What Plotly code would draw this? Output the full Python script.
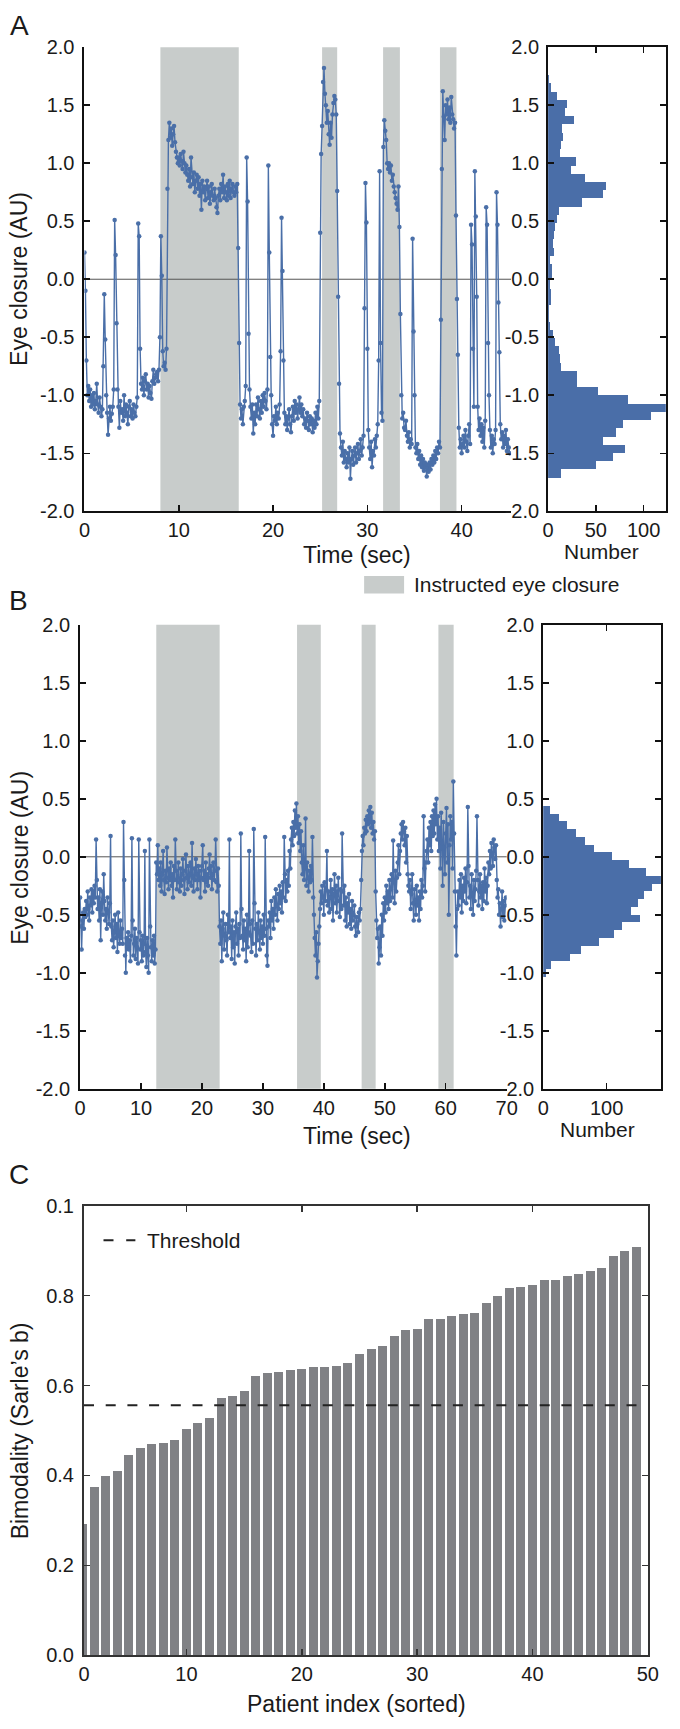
import plotly.graph_objects as go

# ---------------- data ----------------
FS_A = 10   # samples per second of the transcribed trace A
FS_B = 8    # samples per second of the transcribed trace B

eyeA = [
    0.23, -0.10, -0.70, -1.00, -0.92, -1.05, -0.95, -1.10, -1.00, -1.08,
    -0.98, -1.12, -1.05, -0.90, -1.08, -1.15, -1.02, -1.10, -1.18, -1.12,
    -0.75, -0.13, -0.52, -1.00, -1.15, -1.34, -1.20, -1.10, -1.22, -1.16,
    -1.10, -0.95, 0.51, 0.21, -0.38, -0.95, -1.10, -1.28, -1.05, -1.15,
    -1.12, -1.22, -1.00, -1.18, -1.08, -1.15, -1.25, -1.10, -1.05, -1.18,
    -1.12, -1.20, -1.08, -1.15, -1.18, -1.10, -1.02, 0.48, 0.37, -0.60,
    -0.90, -0.95, -0.85, -1.00, -0.88, -0.82, -0.95, -0.90, -1.02, -0.92,
    -0.98, -1.03, -0.88, -0.78, -0.90, -0.85, -0.82, -0.80, -0.88, -0.78,
    -0.50, 0.37, 0.03, -0.62, -0.75, -0.72, -0.78, -0.60, 0.78, 1.20,
    1.35, 1.22, 1.30, 1.15, 1.25, 1.32, 1.18, 1.10, 1.05, 1.00,
    1.05, 0.98, 1.08, 1.02, 0.95, 1.10, 1.00, 0.92, 0.98, 0.90,
    0.85, 0.95, 0.80, 1.05, 0.88, 0.82, 0.92, 0.75, 0.85, 0.90,
    0.78, 0.88, 0.72, 0.82, 0.60, 0.85, 0.75, 0.80, 0.68, 0.78,
    0.85, 0.70, 0.80, 0.65, 0.75, 0.82, 0.72, 0.68, 0.78, 0.70,
    0.62, 0.57, 0.72, 0.78, 0.68, 0.82, 0.75, 0.90, 0.70, 0.80,
    0.75, 0.68, 0.82, 0.72, 0.85, 0.70, 0.78, 0.82, 0.75, 0.72,
    0.80, 0.75, 0.82, 0.27, -0.55, -1.08, -1.20, -1.12, -1.25, -1.10,
    -1.05, -0.92, 1.05, 0.67, -0.47, -0.95, -1.10, -1.20, -1.08, -1.33,
    -1.15, -1.25, -1.08, -1.18, -1.02, -1.12, -1.20, -1.05, -1.15, -1.00,
    -1.10, -0.98, -1.05, -1.12, -0.95, 0.98, 0.23, -0.67, -1.00, -1.25,
    -1.35, -1.18, -1.22, -1.10, -1.25, -1.15, -1.20, -1.08, -0.62, 0.53,
    0.07, -0.70, -1.15, -1.25, -1.18, -1.30, -1.20, -1.12, -1.25, -1.32,
    -1.18, -1.10, -1.22, -1.05, -1.15, -1.08, -1.20, -1.12, -1.02, -1.15,
    -1.08, -1.18, -1.12, -1.25, -1.20, -1.28, -1.15, -1.22, -1.30, -1.18,
    -1.25, -1.20, -1.32, -1.22, -1.28, -1.15, -1.25, -1.10, -1.20, -1.05,
    0.40, 1.08, 1.32, 1.70, 1.82, 1.60, 1.50, 1.35, 1.45, 1.25,
    1.16, 1.35, 1.22, 1.42, 1.52, 1.58, 1.55, 1.42, 0.76, -0.15,
    -0.90, -1.33, -1.45, -1.52, -1.40, -1.58, -1.48, -1.55, -1.62, -1.50,
    -1.58, -1.45, -1.72, -1.55, -1.48, -1.60, -1.52, -1.45, -1.58, -1.50,
    -1.42, -1.55, -1.48, -1.38, -1.52, -1.45, -1.35, -0.25, 0.83, 0.49,
    -0.60, -1.30, -1.45, -1.55, -1.40, -1.62, -1.48, -1.52, -1.38, -1.45,
    -1.35, -1.25, -0.70, 0.93, -0.55, -1.15, -1.22, 1.14, 1.37, 1.28,
    1.20, 1.00, 0.95, 1.00, 0.92, 0.98, 0.85, 0.90, 0.80, 0.75,
    0.70, 0.65, 0.60, 0.80, 0.45, -0.30, -1.00, -1.20, -1.15, -1.28,
    -1.30, -1.22, -1.35, -1.40, -1.32, -1.45, -1.38, -1.42, 0.35, -0.45,
    -1.00, -1.45, -1.50, -1.42, -1.55, -1.48, -1.60, -1.52, -1.62, -1.55,
    -1.65, -1.58, -1.62, -1.70, -1.60, -1.66, -1.58, -1.64, -1.55, -1.60,
    -1.52, -1.58, -1.48, -1.55, -1.45, -1.50, -1.40, -1.45, -0.35, 0.95,
    1.62, 1.40, 1.20, 1.50, 1.42, 1.55, 1.38, 1.48, 1.35, 1.57,
    1.42, 1.38, 1.30, 1.35, 0.55, -0.17, -0.65, -1.28, -1.45, -1.38,
    -1.50, -1.42, -1.35, -1.45, -1.30, -1.40, -1.48, -1.35, -1.25, -1.42,
    0.47, 0.30, -0.60, -1.10, 0.93, 0.54, -0.15, -1.10, -1.30, -1.20,
    -1.35, -1.25, -1.40, -1.28, -1.45, -1.22, 0.62, 0.47, -0.55, -1.00,
    -1.30, -1.45, -1.35, -1.50, -1.38, -1.42, -1.30, 0.75, 0.47, -0.20,
    -0.63, -1.25, -1.38, -1.32, -1.45, -1.35, -1.42, -1.30, -1.48, -1.38,
    -1.45, -1.50,
]

eyeB = [
    -0.35, -0.60, -0.80, -0.55, -0.48, -0.62, -0.45, -0.52,
    -0.38, -0.50, -0.30, -0.45, -0.55, -0.35, -0.42, -0.28,
    -0.48, -0.30, -0.40, -0.25, -0.35, 0.15, -0.20, -0.45,
    -0.35, -0.55, -0.28, -0.72, -0.40, -0.30, -0.50, -0.15,
    -0.38, -0.55, -0.45, -0.62, -0.35, -0.48, -0.58, -0.40,
    0.18, -0.60, -0.72, -0.55, -0.78, -0.65, -0.50, -0.70,
    -0.58, -0.82, -0.48, -0.68, -0.75, -0.55, -0.70, -0.62,
    -0.75, 0.30, -0.20, -0.85, -1.00, -0.70, -0.78, -0.65,
    -0.80, -0.72, -0.90, -0.68, 0.16, -0.55, -0.85, -0.75,
    -0.62, -0.88, -0.70, -0.78, -0.92, 0.15, -0.65, -0.80,
    -0.72, -0.90, -0.68, -0.85, -0.75, 0.05, -0.82, -0.95,
    -0.70, -0.85, -1.00, 0.15, -0.60, -0.78, -0.90, -0.72,
    -0.85, -0.68, -0.92, -0.80, -0.05, -0.15, 0.10, -0.20,
    -0.10, -0.25, -0.05, -0.30, -0.15, 0.05, -0.20, -0.32,
    -0.12, -0.22, 0.08, -0.18, -0.28, -0.10, -0.20, -0.05,
    -0.25, -0.15, -0.35, -0.08, -0.20, 0.15, -0.12, -0.28,
    -0.18, -0.05, -0.22, -0.30, -0.10, -0.25, -0.15, -0.02,
    -0.20, -0.32, -0.12, 0.02, -0.18, -0.28, -0.08, -0.22,
    -0.15, -0.05, -0.25, 0.12, -0.18, -0.30, -0.10, -0.20,
    -0.02, -0.15, -0.28, -0.08, -0.20, -0.12, -0.35, -0.18,
    -0.08, 0.10, -0.20, -0.12, -0.30, -0.05, -0.22, -0.15,
    -0.25, -0.10, 0.02, -0.18, -0.08, -0.28, -0.15, -0.05,
    -0.20, -0.12, 0.15, -0.22, -0.30, -0.10, -0.25, -0.60,
    -0.75, -0.55, -0.90, -0.62, -0.48, -0.80, -0.68, -0.58,
    -0.72, -0.85, -0.50, -0.65, 0.15, -0.70, -0.60, -0.88,
    -0.55, -0.78, -0.65, -0.92, -0.60, -0.48, -0.75, -0.62,
    -0.85, -0.58, -0.70, 0.20, -0.45, -0.68, -0.80, -0.55,
    -0.72, -0.62, -0.90, -0.50, -0.78, -0.65, 0.05, -0.58,
    -0.68, -0.82, -0.55, -0.75, 0.24, -0.40, -0.62, -0.85,
    -0.58, -0.72, -0.48, -0.65, -0.80, -0.55, -0.70, -0.60,
    -0.75, -0.50, -0.68, 0.17, -0.62, -0.85, -0.94, -0.55,
    -0.60, -0.48, -0.70, -0.38, -0.55, -0.45, -0.62, -0.35,
    -0.50, -0.28, -0.42, -0.55, -0.32, -0.45, -0.25, -0.40,
    -0.30, -0.48, -0.22, -0.35, 0.17, -0.15, -0.38, -0.20,
    -0.30, -0.12, -0.25, 0.05, -0.10, 0.15, 0.25, 0.10,
    0.30, 0.18, 0.40, 0.25, 0.46, 0.20, 0.35, 0.12,
    0.28, 0.05, 0.22, -0.05, -0.15, 0.10, -0.20, -0.10,
    0.33, -0.25, -0.05, -0.18, -0.30, -0.12, -0.22, -0.08,
    -0.20, 0.17, -0.35, -0.50, -0.70, -0.85, -0.65, -1.04,
    -0.90, -0.75, -0.60, -0.45, -0.30, -0.40, -0.25, -0.35,
    -0.50, -0.22, -0.38, -0.28, 0.05, -0.42, -0.30, -0.48,
    -0.35, -0.20, -0.45, -0.28, -0.55, -0.32, -0.15, -0.40,
    -0.25, -0.48, -0.30, -0.18, -0.38, -0.52, -0.28, -0.45,
    0.20, -0.30, -0.42, -0.25, -0.55, -0.35, -0.60, -0.40,
    -0.48, -0.32, -0.58, -0.45, -0.62, -0.38, -0.55, -0.50,
    -0.42, -0.60, -0.68, -0.52, -0.58, -0.65, -0.48, -0.55,
    -0.45, -0.20, 0.05, 0.18, 0.10, 0.25, 0.20, 0.32,
    0.22, 0.35, 0.28, 0.40, 0.30, 0.43, 0.25, 0.38,
    0.20, 0.30, 0.15, 0.22, -0.30, -0.55, -0.70, -0.62,
    -0.92, -0.78, -0.60, -0.85, -0.50, -0.68, -0.40, -0.55,
    -0.35, -0.48, -0.25, -0.40, -0.30, -0.45, -0.20, -0.38,
    -0.28, -0.15, -0.35, 0.14, -0.22, -0.40, -0.12, -0.30,
    -0.18, -0.05, 0.10, -0.15, 0.05, 0.20, 0.28, 0.15,
    0.30, 0.22, 0.10, 0.25, -0.05, 0.18, -0.15, -0.25,
    -0.30, -0.20, -0.45, -0.32, -0.15, -0.40, -0.55, -0.28,
    -0.38, -0.50, -0.25, -0.42, -0.35, -0.55, -0.30, -0.45,
    -0.20, -0.35, -0.25, 0.35, -0.10, -0.30, -0.05, 0.05,
    0.15, -0.05, 0.25, 0.10, 0.30, 0.05, 0.35, 0.18,
    0.40, 0.20, 0.45, 0.28, 0.50, 0.15, 0.35, 0.05,
    0.25, -0.10, 0.38, 0.12, -0.25, 0.30, 0.08, -0.15,
    0.20, 0.42, -0.05, 0.28, -0.50, 0.10, 0.35, 0.15,
    0.30, -0.10, 0.65, 0.20, -0.30, -0.60, -0.85, -0.45,
    -0.30, -0.42, -0.20, -0.35, -0.15, -0.48, -0.25, -0.38,
    -0.18, -0.30, -0.10, -0.40, -0.22, 0.43, -0.08, -0.35,
    -0.25, -0.45, -0.15, -0.32, -0.50, -0.20, -0.38, -0.28,
    -0.12, 0.35, -0.20, -0.42, -0.30, -0.15, -0.35, -0.25,
    -0.45, -0.22, -0.38, -0.10, -0.30, -0.18, -0.40, -0.25,
    -0.05, -0.15, 0.05, -0.10, 0.12, 0.02, -0.08, 0.15,
    0.08, -0.02, 0.10, -0.20, -0.35, -0.28, -0.50, -0.40,
    -0.60, -0.45, -0.30, -0.52, -0.38, -0.55, -0.42, -0.35,
]

# instructed eye-closure intervals (sec)
shadeA_start = [8.05, 25.2, 31.67, 37.7]
shadeA_end = [16.36, 26.8, 33.45, 39.45]
shadeB_start = [12.5, 35.6, 46.2, 58.8]
shadeB_end = [22.9, 39.5, 48.5, 61.3]

# histogram of panel A (bins from low to high)
histA_start = -1.71
histA_width = 0.0708
histA_counts = [13, 50, 68, 81, 58, 71, 78, 108, 123, 84, 52, 30, 30, 14, 12,
                11, 7, 5, 2, 1, 1, 3, 3, 2, 4, 4, 2, 6, 5, 6, 7, 9, 11, 36,
                57, 61, 39, 24, 29, 12, 14, 16, 15, 27, 18, 20, 9, 3, 1]

# histogram of panel B (bins from low to high)
histB_start = -1.035
histB_width = 0.06705
histB_counts = [4, 13, 42, 60, 88, 111, 124, 152, 138, 150, 159, 172, 186,
                162, 135, 108, 80, 66, 51, 37, 25, 10]

# panel C
patient_index = list(range(1, 50))
bimodality = [0.292, 0.374, 0.399, 0.410, 0.446, 0.461, 0.471, 0.472, 0.480,
              0.503, 0.516, 0.527, 0.572, 0.576, 0.587, 0.622, 0.627, 0.631,
              0.634, 0.636, 0.642, 0.642, 0.644, 0.651, 0.669, 0.682, 0.687,
              0.709, 0.724, 0.726, 0.747, 0.748, 0.754, 0.759, 0.762, 0.783,
              0.800, 0.817, 0.820, 0.823, 0.835, 0.835, 0.844, 0.849, 0.854,
              0.862, 0.887, 0.898, 0.907]
threshold = 0.556

eye_ticks = [-2, -1.5, -1, -0.5, 0, 0.5, 1, 1.5, 2]
eye_ticktext = ["-2.0", "-1.5", "-1.0", "-0.5", "0.0", "0.5", "1.0", "1.5", "2.0"]
C_yticks = [0, 0.2, 0.4, 0.6, 0.8, 1.0]
C_yticktext = ["0.0", "0.2", "0.4", "0.6", "0.8", "0.1"]
C_xticks = [1.12, 10, 20, 30, 40, 50]
C_xticktext = ["0", "10", "20", "30", "40", "50"]

# ---------------- styling ----------------
W, H = 680, 1729
FONT = "Liberation Sans, Arial, Helvetica, sans-serif"
BLUE = "#4a6fa8"
HISTBLUE = "#4a6ea8"
SHADE = "#c8cccb"
BARGREY = "#808185"
TXT = "#1a1a1a"


def px_x(a, b):
    return [a / W, b / W]


def px_y(top, bottom):
    return [1 - bottom / H, 1 - top / H]


timeA = [i / FS_A for i in range(len(eyeA))]
timeB = [i / FS_B for i in range(len(eyeB))]
centersA = [histA_start + histA_width * (i + 0.5) for i in range(len(histA_counts))]
centersB = [histB_start + histB_width * (i + 0.5) for i in range(len(histB_counts))]

fig = go.Figure()

fig.add_trace(go.Scatter(x=timeA, y=eyeA, mode="lines+markers", xaxis="x", yaxis="y",
                         line=dict(color=BLUE, width=1.4),
                         marker=dict(color=BLUE, size=4.5), showlegend=False))
fig.add_trace(go.Bar(y=centersA, x=histA_counts, orientation="h", width=histA_width,
                     xaxis="x2", yaxis="y2", marker=dict(color=HISTBLUE, line=dict(width=0)),
                     showlegend=False))
fig.add_trace(go.Scatter(x=timeB, y=eyeB, mode="lines+markers", xaxis="x3", yaxis="y3",
                         line=dict(color=BLUE, width=1.4),
                         marker=dict(color=BLUE, size=4.5), showlegend=False))
fig.add_trace(go.Bar(y=centersB, x=histB_counts, orientation="h", width=histB_width,
                     xaxis="x4", yaxis="y4", marker=dict(color=HISTBLUE, line=dict(width=0)),
                     showlegend=False))
fig.add_trace(go.Bar(x=patient_index, y=bimodality, width=0.78, xaxis="x5", yaxis="y5",
                     marker=dict(color=BARGREY, line=dict(width=0)), showlegend=False))

axis_common = dict(showline=True, linecolor="#111111", linewidth=2, ticks="inside",
                   ticklen=6, tickwidth=1.5, tickcolor="#111111", showgrid=False,
                   zeroline=False, tickfont=dict(family=FONT, size=20, color=TXT),
                   fixedrange=True)

yA_dom = px_y(36.7, 506.7)
yB_dom = px_y(621.7, 1091.7)
yC_dom = px_y(1210, 1665.6)

fig.update_layout(
    width=W, height=H, margin=dict(l=0, r=0, t=0, b=0),
    paper_bgcolor="white", plot_bgcolor="rgba(0,0,0,0)",
    font=dict(family=FONT, color=TXT), bargap=0,
    xaxis=dict(axis_common, domain=px_x(80.5, 518), range=[0, 45.24],
               tickvals=[0, 10, 20, 30, 40], anchor="y"),
    yaxis=dict(axis_common, domain=yA_dom, range=[-2, 2], tickvals=eye_ticks,
               ticktext=eye_ticktext, anchor="x", ticklabelstandoff=4),
    xaxis2=dict(axis_common, domain=px_x(556, 676.7), range=[0, 123.2],
                tickvals=[0, 50, 100], mirror="ticks", anchor="y2"),
    yaxis2=dict(axis_common, domain=yA_dom, range=[-2, 2], tickvals=eye_ticks,
                ticktext=eye_ticktext, mirror="ticks", anchor="x2", ticklabelstandoff=3),
    xaxis3=dict(axis_common, domain=px_x(76, 513.5), range=[0, 70],
                tickvals=[0, 10, 20, 30, 40, 50, 60, 70], anchor="y3"),
    yaxis3=dict(axis_common, domain=yB_dom, range=[-2, 2], tickvals=eye_ticks,
                ticktext=eye_ticktext, anchor="x3", ticklabelstandoff=4),
    xaxis4=dict(axis_common, domain=px_x(551, 671.7), range=[0, 185.7],
                tickvals=[0, 100], mirror="ticks", anchor="y4"),
    yaxis4=dict(axis_common, domain=yB_dom, range=[-2, 2], tickvals=eye_ticks,
                ticktext=eye_ticktext, mirror="ticks", anchor="x4", ticklabelstandoff=3),
    xaxis5=dict(axis_common, domain=px_x(80, 658.3), range=[1.12, 50],
                tickvals=C_xticks, ticktext=C_xticktext, mirror="ticks", anchor="y5",
                linecolor="#333333", tickcolor="#333333"),
    yaxis5=dict(axis_common, domain=yC_dom, range=[0, 1.0], tickvals=C_yticks,
                ticktext=C_yticktext, mirror="ticks", anchor="x5",
                linecolor="#333333", tickcolor="#333333", ticklabelstandoff=4),
)

shapes = []
for s, e in zip(shadeA_start, shadeA_end):
    shapes.append(dict(type="rect", xref="x", yref="y domain", x0=s, x1=e, y0=0, y1=1,
                       fillcolor=SHADE, line=dict(width=0), layer="below"))
for s, e in zip(shadeB_start, shadeB_end):
    shapes.append(dict(type="rect", xref="x3", yref="y3 domain", x0=s, x1=e, y0=0, y1=1,
                       fillcolor=SHADE, line=dict(width=0), layer="below"))
shapes.append(dict(type="line", xref="x domain", yref="y", x0=0, x1=1, y0=0, y1=0,
                   line=dict(color="#555555", width=1), layer="below"))
shapes.append(dict(type="line", xref="x3 domain", yref="y3", x0=0, x1=1, y0=0, y1=0,
                   line=dict(color="#555555", width=1), layer="below"))
shapes.append(dict(type="line", xref="x5 domain", yref="y5", x0=0, x1=1,
                   y0=threshold, y1=threshold,
                   line=dict(color="#222222", width=2, dash="10px,11.7px")))
# legend keys
shapes.append(dict(type="rect", xref="paper", yref="paper",
                   x0=367.3 / W, x1=408.3 / W, y0=1 - 590 / H, y1=1 - 572.3 / H,
                   fillcolor=SHADE, line=dict(width=0)))
shapes.append(dict(type="line", xref="paper", yref="paper",
                   x0=100 / W, x1=132.7 / W, y0=1 - 1245 / H, y1=1 - 1245 / H,
                   line=dict(color="#222222", width=2, dash="10px,12.7px")))
fig.update_layout(shapes=shapes)


def ann(text, x, y, size, angle=0, xanchor="center"):
    return dict(text=text, x=x / W, y=1 - y / H, xref="paper", yref="paper",
                showarrow=False, textangle=angle, xanchor=xanchor, yanchor="middle",
                font=dict(family=FONT, size=size, color=TXT))


annotations = [
    ann("A", 13.7, 15, 28),
    ann("B", 12.5, 597, 28),
    ann("C", 13.3, 1178, 28),
    ann("Eye closure (AU)", 14, 271.7, 23, -90),
    ann("Eye closure (AU)", 14, 858, 23, -90),
    ann("Bimodality (Sarle\u2019s b)", 14, 1438, 23, -90),
    ann("Time (sec)", 360, 551, 23),
    ann("Time (sec)", 360, 1139, 23),
    ann("Number", 610.8, 547, 21),
    ann("Number", 607, 1133, 21),
    ann("Patient index (sorted)", 359, 1715, 23),
    ann("Instructed eye closure", 416, 581, 21, xanchor="left"),
    ann("Threshold", 142.7, 1245, 21, xanchor="left"),
]
fig.update_layout(annotations=annotations)

fig.write_html("out.html",
               config={"displayModeBar": False, "staticPlot": True},
               post_script="document.body.style.margin='0';document.body.style.padding='0';")
